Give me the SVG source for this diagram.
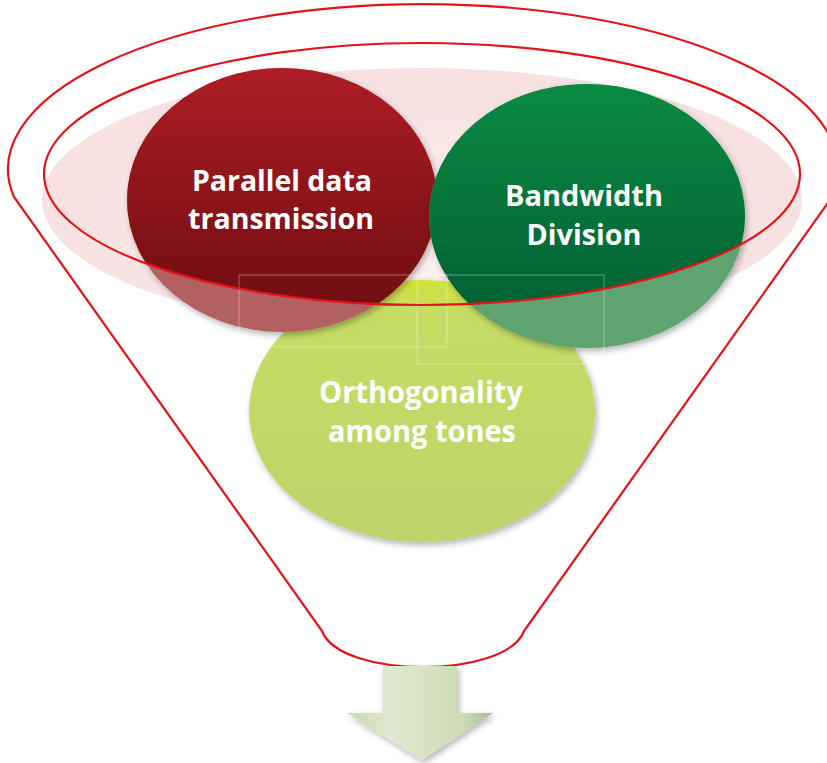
<svg xmlns="http://www.w3.org/2000/svg" width="827" height="763" viewBox="0 0 827 763">
<style>
.rim{fill:none;stroke:#e3121b;stroke-width:2.2}
.lbl{font-family:"Open Sans","Liberation Sans",sans-serif;font-weight:bold;fill:#ffffff;text-anchor:middle}
.ghost{fill:none;stroke:#ffffff;stroke-opacity:0.45;stroke-width:0.8}
</style>
<defs>
<linearGradient id="gRed" x1="0" y1="0" x2="0" y2="1">
<stop offset="0" stop-color="#ad1d24"/><stop offset="1" stop-color="#6a0c10"/>
</linearGradient>
<linearGradient id="gGreen" x1="0" y1="0" x2="0" y2="1">
<stop offset="0" stop-color="#0b8a42"/><stop offset="1" stop-color="#005a32"/>
</linearGradient>
<linearGradient id="gLime" x1="0" y1="0" x2="0" y2="1">
<stop offset="0" stop-color="#d2e33a"/><stop offset="0.12" stop-color="#c6dd64"/><stop offset="1" stop-color="#bcd46a"/>
</linearGradient>
<linearGradient id="gArrow" x1="0" y1="0" x2="1" y2="0">
<stop offset="0" stop-color="#c9d8b0"/><stop offset="0.3" stop-color="#dfe9cf"/><stop offset="0.8" stop-color="#cddbb6"/><stop offset="1" stop-color="#a9b996"/>
</linearGradient>
<radialGradient id="gPink" cx="0.5" cy="0.6" r="0.5">
<stop offset="0" stop-color="#fdf6f4"/><stop offset="0.6" stop-color="#f9e8e6"/><stop offset="1" stop-color="#f7e1e1"/>
</radialGradient>
<clipPath id="inner"><ellipse cx="422" cy="174" rx="378" ry="131"/></clipPath>
<filter id="sh" x="-20%" y="-20%" width="140%" height="140%">
<feDropShadow dx="2" dy="3" stdDeviation="3" flood-color="#000" flood-opacity="0.3"/>
</filter>
</defs>

<g id="funnel-back">
<ellipse cx="422" cy="200" rx="380" ry="132" fill="url(#gPink)"/>
</g>

<g id="node-orthogonality">
<ellipse cx="422" cy="411" rx="173" ry="131" fill="url(#gLime)" filter="url(#sh)"/>
<text class="lbl" x="421" y="403" font-size="30" textLength="204" lengthAdjust="spacingAndGlyphs">Orthogonality</text>
<text class="lbl" x="422" y="442" font-size="30" textLength="188" lengthAdjust="spacingAndGlyphs">among tones</text>
</g>

<g id="node-parallel">
<ellipse cx="282" cy="200" rx="155" ry="132" fill="#b36161" filter="url(#sh)"/>
<ellipse cx="282" cy="200" rx="155" ry="132" fill="url(#gRed)" clip-path="url(#inner)"/>
<text class="lbl" x="282" y="191" font-size="28" textLength="180" lengthAdjust="spacingAndGlyphs">Parallel data</text>
<text class="lbl" x="281" y="229" font-size="28" textLength="186" lengthAdjust="spacingAndGlyphs">transmission</text>
</g>

<g id="node-bandwidth">
<ellipse cx="587" cy="216" rx="158" ry="132" fill="#5fa46f" filter="url(#sh)"/>
<ellipse cx="587" cy="216" rx="158" ry="132" fill="url(#gGreen)" clip-path="url(#inner)"/>
<text class="lbl" x="584" y="206" font-size="28" textLength="158" lengthAdjust="spacingAndGlyphs">Bandwidth</text>
<text class="lbl" x="584" y="245" font-size="28" textLength="115" lengthAdjust="spacingAndGlyphs">Division</text>
</g>

<g id="artifacts">
<rect class="ghost" x="239" y="275" width="208" height="72"/>
<rect class="ghost" x="417" y="275" width="187" height="89"/>
</g>

<g id="funnel">
<ellipse class="rim" cx="422" cy="174" rx="378" ry="131"/>
<path class="rim" d="M 14 197 A 415 165 0 1 1 832 197 L 524 631 C 506 679, 340 679, 322 631 Z"/>
</g>

<g id="connectors">
<polygon points="383,666 457,666 457,713 493,713 422,760 347,713 383,713" fill="url(#gArrow)" filter="url(#sh)"/>
</g>
</svg>
